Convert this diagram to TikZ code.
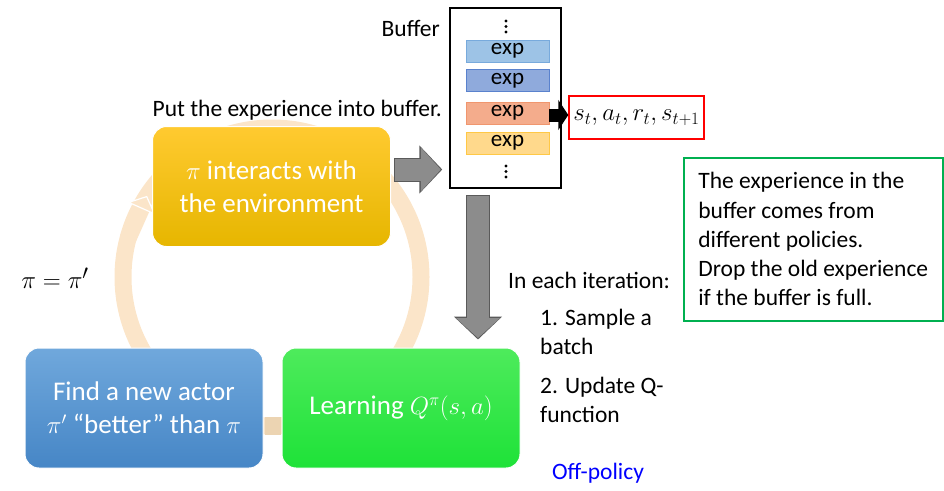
\documentclass[tikz,border=0pt]{standalone}
\usepackage{fontspec}
\setmainfont{Carlito}
\usetikzlibrary{arrows.meta,calc}
\definecolor{ringc}{RGB}{251,229,201}
\definecolor{ringdark}{RGB}{236,212,178}
\definecolor{arrowgray}{RGB}{140,140,140}
\definecolor{arrowedge}{RGB}{90,90,90}
\definecolor{notegreen}{RGB}{0,176,80}
\tikzset{x=1pt,y=-1pt,
    stagebox/.style={rounded corners=14pt,draw=white,line width=1pt,
        text=white,align=center,inner sep=0pt,
        minimum width=238pt,minimum height=120pt,
        font=\fontsize{27}{33}\selectfont},
    expbar/.style={minimum width=83pt,minimum height=22pt,inner sep=0pt,
        line width=0.8pt,font=\fontsize{23}{24}\selectfont},
    note/.style={inner sep=0pt,align=left,font=\fontsize{23.5}{29.3}\selectfont},
    ring/.style={ringc,line width=17pt},
    grayedge/.style={arrowedge,line width=24pt,
        -{Triangle[length=23pt,width=47pt]}},
    grayarrow/.style={arrowgray,line width=22pt,
        -{Triangle[length=20pt,width=43pt]}},
    }
\begin{document}
\begin{tikzpicture}
	\useasboundingbox (0,0) rectangle (944,490);
	% cycle ring behind the stages
	\coordinate (rc) at (272,277);
	\coordinate (rb) at ($(rc)+(90:149)$);
	\draw[ring] (rc) circle[radius=149];
	\draw[ring,-{Triangle[length=14pt,width=31pt,fill=ringc,color=white,line width=1.2pt]}]
		($(rc)+(195:149)$) -- ($(rc)+(213:149)$);
	% stages
	\node[stagebox,top color={rgb,255:red,255;green,202;blue,48},bottom color={rgb,255:red,230;green,182;blue,0}]
		(act) at (271.5,186.5) {$\pi$ interacts with\\the environment};
	\node[stagebox,top color={rgb,255:red,112;green,168;blue,220},bottom color={rgb,255:red,70;green,134;blue,198}]
		(find) at (144,408) {Find a new actor\\$\pi'$ ``better'' than $\pi$};
	\node[stagebox,top color={rgb,255:red,78;green,235;blue,92},bottom color={rgb,255:red,30;green,226;blue,56}]
		(learn) at (401,408) {Learning $Q^{\pi}(s,a)$};
	\draw[ringdark,line width=18pt] ([xshift=1pt]find.east |- rb) -- ([xshift=-1pt]learn.west |- rb);
	% buffer
	\node[draw,line width=1.5pt,minimum width=111pt,minimum height=180pt,inner sep=0pt]
		(buffer) at (505.5,98) {};
	\node[anchor=east,note] (buflabel) at (440,28) {Buffer};
	\node[expbar,fill={rgb,255:red,157;green,195;blue,230},draw={rgb,255:red,120;green,170;blue,220}] (e1) at (507.5,51) {exp};
	\node[expbar,fill={rgb,255:red,143;green,170;blue,220},draw={rgb,255:red,90;green,130;blue,205}] (e2) at (507.5,80.5) {exp};
	\node[expbar,fill={rgb,255:red,244;green,172;blue,140},draw={rgb,255:red,240;green,150;blue,110}] (e3) at (507.5,113) {exp};
	\node[expbar,fill={rgb,255:red,255;green,217;blue,140},draw={rgb,255:red,255;green,200;blue,70}] (e4) at (507.5,143) {exp};
	\foreach \y in {21,26.5,32,166,171.5,177} \fill (506,\y) circle[radius=1.7];
	\node[draw=red,line width=1.5pt,minimum width=135pt,minimum height=43pt,inner sep=0pt,
		font=\fontsize{24.5}{28}\selectfont] (tuple) at (636.5,117.5) {$s_t,a_t,r_t,s_{t+1}$};
	\draw[line width=13pt,-{Triangle[length=10pt,width=30pt]}] ([yshift=-2pt]e3.east) -- ([yshift=-2pt]e3.east -| tuple.west);
	% block arrows
	\draw[grayedge,shorten <=3pt,shorten >=7pt] ([yshift=17pt]act.east) -- ([yshift=17pt]act.east -| buffer.west);
	\draw[grayarrow,shorten <=4pt,shorten >=8.5pt] ([yshift=17pt]act.east) -- ([yshift=17pt]act.east -| buffer.west);
	\draw[grayedge,shorten <=6pt,shorten >=8pt] ([xshift=-27.5pt]buffer.south) -- ([xshift=-27.5pt]buffer.south |- learn.north);
	\draw[grayarrow,shorten <=7pt,shorten >=9.5pt] ([xshift=-27.5pt]buffer.south) -- ([xshift=-27.5pt]buffer.south |- learn.north);
	% texts
	\node[note,anchor=east] (put) at (442,110) {Put the experience into buffer.};
	\node[inner sep=0pt,font=\fontsize{29}{32}\selectfont] (update) at (55,278) {$\pi=\pi'$};
	\node[note,anchor=west] (iter) at (508,280) {In each iteration:};
	\node[note,anchor=north west] (step1) at (540,309) {1. Sample a\\batch};
	\node[note,anchor=north west] (step2) at (540,377) {2. Update Q-\\function};
	\node[note,text=blue] (off) at (598,473) {Off-policy};
	\node[note,draw=notegreen,line width=1.5pt,anchor=north west,inner xsep=11pt,inner ysep=10pt,
		minimum width=259pt,minimum height=163pt] (why) at (683,157)
		{The experience in the\\buffer comes from\\different policies.\\Drop the old experience\\if the buffer is full.};
\end{tikzpicture}
\end{document}
